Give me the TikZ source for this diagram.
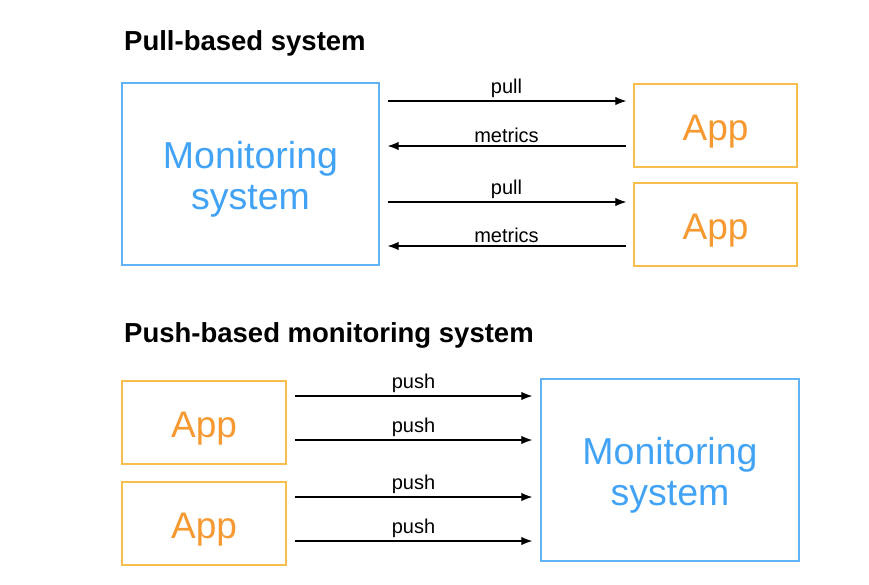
\documentclass[tikz,border=0pt]{standalone}
\usepackage{fontspec}
\setmainfont{Liberation Sans}
\usetikzlibrary{arrows.meta}
\definecolor{monblue}{RGB}{66,163,245}
\definecolor{boxblue}{RGB}{98,178,246}
\definecolor{apporange}{RGB}{245,153,48}
\definecolor{boxorange}{RGB}{247,190,78}
\begin{document}
\begin{tikzpicture}[x=1pt, y=-1pt,
    monitor/.style ={rectangle, draw=boxblue, line width=1.4pt,
                     minimum width=257pt, minimum height=182pt},
    montext/.style ={align=center, text=monblue, yshift=-5pt, font=\fontsize{37.5}{41}\selectfont},
    application/.style ={rectangle, draw=boxorange, line width=1.4pt, text=apporange,
                     minimum width=163pt, minimum height=83pt, text height=37pt, text depth=8pt,
                     font=\fontsize{37}{41}\selectfont},
    heading/.style ={anchor=west, inner sep=0pt, font=\fontsize{27.5}{30}\bfseries\selectfont},
    flow/.style ={line width=1.1pt, -{Latex[length=11pt, width=8.5pt]}},
    tag/.style ={above=-1pt, midway, font=\fontsize{20}{22}\selectfont}]
   \useasboundingbox (0,0) rectangle (869,584);
   % pull-based
   \node[heading] (t1) at (124,43) {Pull-based system};
   \node[monitor, label={[montext]center:Monitoring\\system}] (mon1) at (250.5,174) {};
   \node[application] (app1) at (715.5,125.5) {App};
   \node[application] (app2) at (715.5,224.5) {App};
   \coordinate (a1) at ([yshift=24.5pt]app1.west);
   \coordinate (b1) at ([yshift=-20.5pt]app1.west);
   \coordinate (a2) at ([yshift=22.5pt]app2.west);
   \coordinate (b2) at ([yshift=-21.5pt]app2.west);
   \draw[flow, shorten <=8pt, shorten >=7pt] (mon1.east |- a1) -- node[tag] {pull} (a1);
   \draw[flow, shorten <=7pt, shorten >=8pt] (b1) -- node[tag] {metrics} (mon1.east |- b1);
   \draw[flow, shorten <=8pt, shorten >=7pt] (mon1.east |- a2) -- node[tag] {pull} (a2);
   \draw[flow, shorten <=7pt, shorten >=8pt] (b2) -- node[tag] {metrics} (mon1.east |- b2);
   % push-based
   \node[heading] (t2) at (124,335) {Push-based monitoring system};
   \node[application, minimum width=164pt] (app3) at (204,422.5) {App};
   \node[application, minimum width=164pt] (app4) at (204,523.5) {App};
   \node[monitor, minimum width=258pt, label={[montext]center:Monitoring\\system}] (mon2) at (670,470) {};
   \coordinate (c1) at ([yshift=26.5pt]app3.east);
   \coordinate (c2) at ([yshift=-17.5pt]app3.east);
   \coordinate (c3) at ([yshift=26.5pt]app4.east);
   \coordinate (c4) at ([yshift=-17.5pt]app4.east);
   \foreach \c in {c1,c2,c3,c4}
     \draw[flow, shorten <=8pt, shorten >=8pt] (\c) -- node[tag] {push} (mon2.west |- \c);
\end{tikzpicture}
\end{document}
